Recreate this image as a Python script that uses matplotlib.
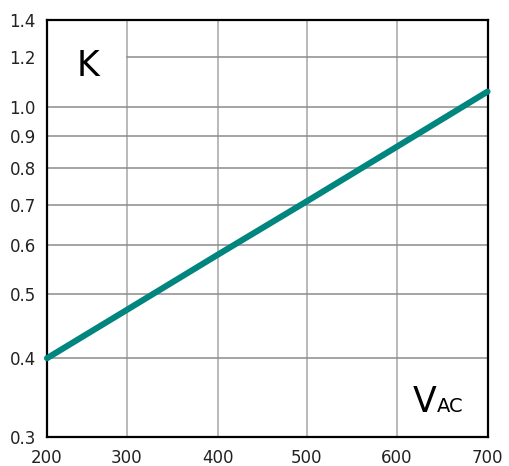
import numpy as np
import matplotlib
matplotlib.use("Agg")
import matplotlib.pyplot as plt

# curve (K vs V_AC)
v_ac = [200, 300, 400, 500, 600, 700]
k_val = [0.400, 0.473, 0.579, 0.709, 0.864, 1.056]

x_ticks = [200, 300, 400, 500, 600, 700]
y_ticks = [0.3, 0.4, 0.5, 0.6, 0.7, 0.8, 0.9, 1.0, 1.2, 1.4]

# the printed grid is not evenly spaced; where each tick sits (pixels from the
# lower-left corner of the plot box)
x_tick_px = [0.0, 79.7, 171.0, 260.0, 349.7, 440.5]
y_tick_px = [0.0, 78.3, 142.5, 191.5, 231.8, 268.3, 301.0, 330.0, 379.8, 416.5]

TEAL = "#00857f"
W, H = 509, 466
LOG_YT = np.log(y_ticks)


def fx(x):
    return np.interp(x, x_ticks, x_tick_px)


def fx_inv(p):
    return np.interp(p, x_tick_px, x_ticks)


def fy(y):
    y = np.clip(np.asarray(y, dtype=float), 1e-6, None)
    return np.interp(np.log(y), LOG_YT, y_tick_px)


def fy_inv(p):
    return np.exp(np.interp(p, y_tick_px, LOG_YT))


fig = plt.figure(figsize=(W / 100, H / 100), dpi=100)
ax = fig.add_axes([47 / W, 1 - 436.5 / H, 440.5 / W, 416.5 / H])
ax.set_xscale("function", functions=(fx, fx_inv))
ax.set_yscale("function", functions=(fy, fy_inv))
ax.set_xlim(200, 700)
ax.set_ylim(0.3, 1.4)

# grid drawn by hand: the 1.2 line leaves room for the "K" label
for x in x_ticks[1:-1]:
    ax.axvline(x, color="#a6a6a6", lw=1.1, zorder=1)
for y in y_ticks[1:-1]:
    xmin = x_tick_px[1] / x_tick_px[-1] if y == 1.2 else 0.0
    ax.axhline(y, xmin=xmin, color="#8c8c8c", lw=1.1, zorder=1)

ax.plot(v_ac, k_val, color=TEAL, lw=4.4, solid_capstyle="round",
        clip_on=False, zorder=5)

ax.set_xticks(x_ticks)
ax.set_xticklabels([str(x) for x in x_ticks])
ax.set_yticks(y_ticks)
ax.set_yticklabels(["%.1f" % y for y in y_ticks])
ax.xaxis.set_minor_locator(matplotlib.ticker.NullLocator())
ax.yaxis.set_minor_locator(matplotlib.ticker.NullLocator())
ax.tick_params(length=0, labelsize=12, colors="#222222", pad=8)
ax.tick_params(axis="x", pad=9)

for s in ax.spines.values():
    s.set_linewidth(1.6)
    s.set_color("black")

fig.text(88 / W, 1 - 66 / H, "K", fontsize=25, ha="center", va="center")
fig.text(413 / W, 1 - 411.7 / H, "V", fontsize=25, ha="left", va="baseline")
fig.text(437 / W, 1 - 411.7 / H, "AC", fontsize=14, ha="left", va="baseline")

fig.savefig("out.png", dpi=100)
